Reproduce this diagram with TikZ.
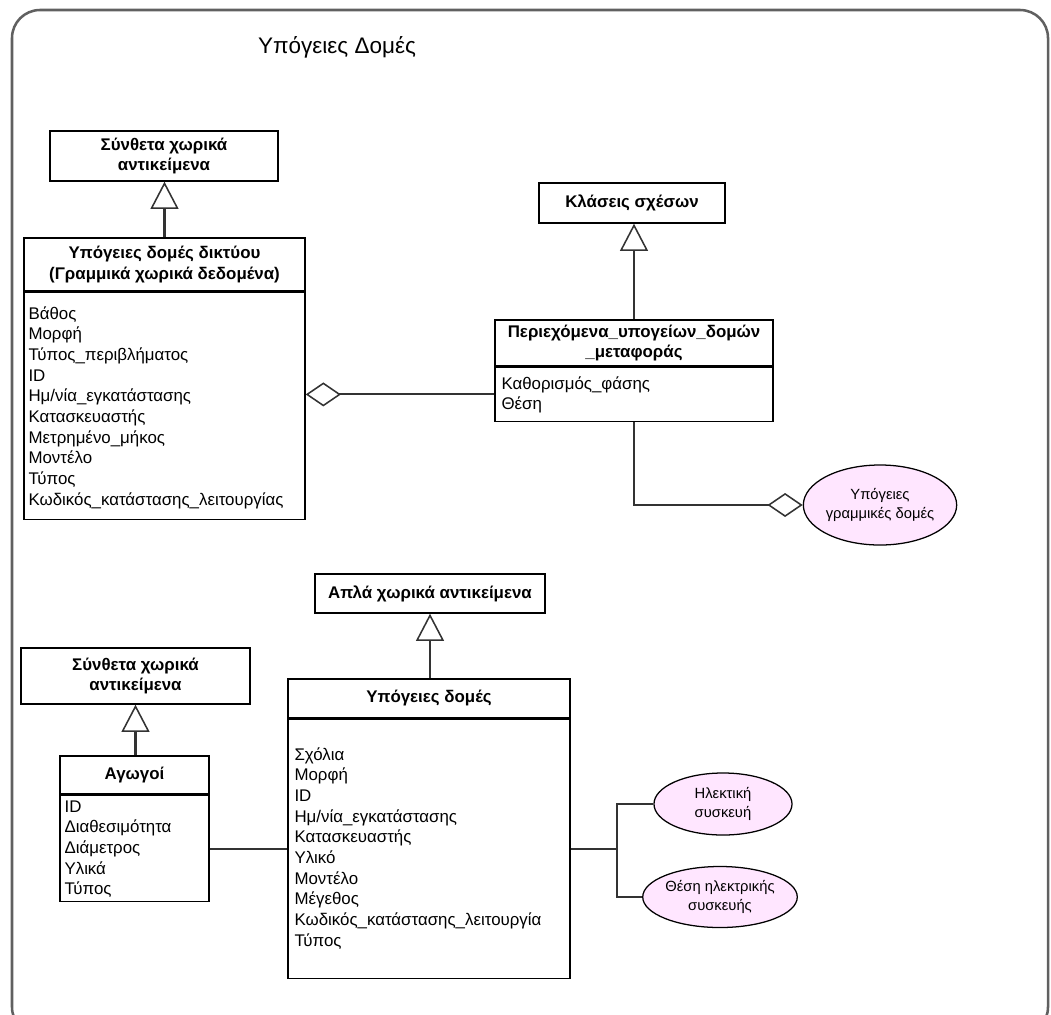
\documentclass[tikz,border=0pt]{standalone}
\usepackage{fontspec}
\setmainfont{Liberation Sans}
\usepackage{tikz}
\usetikzlibrary{shapes.geometric,arrows.meta,positioning,calc}
\usepackage{xcolor}
\definecolor{rolefill}{HTML}{FFE6FF}
\definecolor{linkgray}{HTML}{333333}
\definecolor{framegray}{HTML}{606060}

\begin{document}
\begin{tikzpicture}[
        x=0.025cm, y=-0.025cm,
        every node/.style={font=\fontsize{12}{14.7}\selectfont},
        head/.style={draw, line width=1pt, fill=white, align=center, inner sep=0pt,
                     font=\fontsize{12}{14.7}\selectfont\bfseries},
        body/.style={draw, line width=1pt, fill=white, inner sep=0pt, anchor=north},
        attr/.style={anchor=north west, align=left, inner sep=0pt},
        role/.style={draw, ellipse, line width=0.9pt, fill=rolefill, inner sep=0pt, align=center,
                     font=\fontsize{10.5}{13}\selectfont},
        link/.style={draw=linkgray, line width=1.5pt},
        gen/.style={link, -{Triangle[open, length=0.68cm, width=0.7cm, line width=1.1pt]}},
        agg/.style={link, -{Diamond[open, length=0.88cm, width=0.6cm, line width=1.1pt]}},
    ]
        \useasboundingbox (0,0) rectangle (1051,1014);

        % --- outer frame ---
        \begin{scope}
            \clip (0,0) rectangle (1051,1014);
            \draw[framegray, line width=1.8pt, rounded corners=0.7cm] (12,10) rectangle (1048,1035);
        \end{scope}
        \node[font=\fontsize{16}{19}\selectfont] (title) at (337,47) {Υπόγειες Δομές};

        % --- network structures ---
        \node[head, minimum width=5.7cm, minimum height=1.25cm] (h1) at (164,156) {Σύνθετα χωρικά\\αντικείμενα};
        \node[head, minimum width=7.025cm, minimum height=1.325cm] (h2) at (164.5,264.5) {Υπόγειες δομές δικτύου\\(Γραμμικά χωρικά δεδομένα)};
        \node[body, minimum width=7.025cm, minimum height=5.675cm] (b2) at (h2.south) {};
        \node[attr] (t2) at ([shift={(5,14.5)}]b2.north west)
            {Βάθος\\Μορφή\\Τύπος\_περιβλήματος\\ID\\Ημ/νία\_εγκατάστασης\\Κατασκευαστής\\Μετρημένο\_μήκος\\Μοντέλο\\Τύπος\\Κωδικός\_κατάστασης\_λειτουργίας};

        % --- relation classes ---
        \node[head, minimum width=4.65cm, minimum height=1cm] (h3) at (632,203) {Κλάσεις σχέσων};
        \node[head, minimum width=6.95cm, minimum height=1.15cm] (h4) at (634,343) {Περιεχόμενα\_υπογείων\_δομών\\\_μεταφοράς};
        \node[body, minimum width=6.95cm, minimum height=1.35cm] (b4) at (h4.south) {};
        \node[attr] (t4) at ([shift={(7,9.5)}]b4.north west) {Καθορισμός\_φάσης\\Θέση};
        \node[role, minimum width=3.625cm, minimum height=2cm] (e1) at (880,505) {Υπόγειες\\γραμμικές δομές};

        % --- structures ---
        \node[head, minimum width=5.75cm, minimum height=0.975cm] (h5) at (430,593.5) {Απλά χωρικά αντικείμενα};
        \node[head, minimum width=7.05cm, minimum height=0.975cm] (h6) at (429,698.5) {Υπόγειες δομές};
        \node[body, minimum width=7.05cm, minimum height=6.475cm] (b6) at (h6.south) {};
        \node[attr] (t6) at ([shift={(7,28.5)}]b6.north west)
            {Σχόλια\\Μορφή\\ID\\Ημ/νία\_εγκατάστασης\\Κατασκευαστής\\Υλικό\\Μοντέλο\\Μέγεθος\\Κωδικός\_κατάστασης\_λειτουργία\\Τύπος};
        \node[role, minimum width=3.45cm, minimum height=1.55cm] (e2) at (723,804) {Ηλεκτική\\συσκευή};
        \node[role, minimum width=3.625cm, minimum height=1.525cm] (e3) at (720,897) {Θέση ηλεκτρικής\\συσκευής};

        % --- conductors ---
        \node[head, minimum width=5.725cm, minimum height=1.4cm] (h7) at (135.5,676) {Σύνθετα χωρικά\\αντικείμενα};
        \node[head, minimum width=3.725cm, minimum height=0.95cm] (h8) at (134.5,775) {Αγωγοί};
        \node[body, minimum width=3.725cm, minimum height=2.65cm] (b8) at (h8.south) {};
        \node[attr] (t8) at ([shift={(5,5.5)}]b8.north west) {ID\\Διαθεσιμότητα\\Διάμετρος\\Υλικά\\Τύπος};

        % --- generalisations ---
        \draw[gen] (h2.north) -- (h2.north |- h1.south);
        \draw[gen] (h4.north) -- (h4.north |- h3.south);
        \draw[gen] (h6.north -| h5.south) -- (h5.south);
        \draw[gen] (h8.north -| h7.south) -- (h7.south);

        % --- aggregations and links ---
        \draw[agg] (b4.west) -- (b2.east |- b4.west);
        \draw[agg] (b4.south) |- (e1.west);
        \draw[link] (b8.east |- b6.west) -- (b6.west);
        \coordinate (fork) at ([xshift=33]b6.east);
        \draw[link] (b6.east) -- (fork);
        \draw[link] (fork) |- (e2.west);
        \draw[link] (fork) |- (e3.west);
    \end{tikzpicture}
\end{document}
